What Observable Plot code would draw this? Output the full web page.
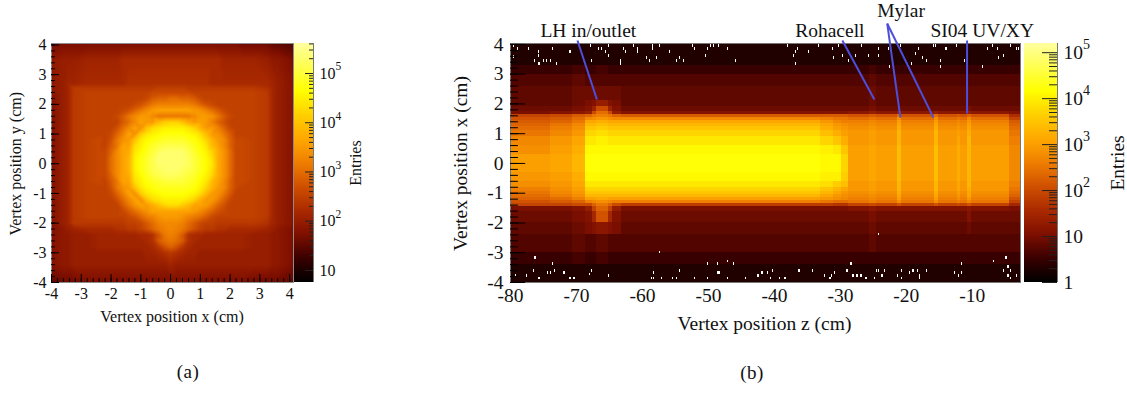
<!DOCTYPE html>
<html><head><meta charset="utf-8">
<script src="https://cdn.jsdelivr.net/npm/d3@7"></script>
<script src="https://cdn.jsdelivr.net/npm/@observablehq/plot@0.6"></script>
<style>
html,body{margin:0;padding:0;background:#fff}
#page{position:relative;width:1127px;height:394px;overflow:hidden;font-family:"Liberation Serif",serif}
#page svg{position:absolute;left:0;top:0;background:transparent}
.cap{position:absolute;font-size:19px;letter-spacing:.5px;transform:translate(-50%,-50%);color:#111}
</style></head><body><div id="page"></div>
<script>
// shared colour palette (fraction of the colour bar -> colour)
const paletteStops=[0,.1,.2,.3,.4,.5,.6,.7,.8,.9,1];
const paletteColors=["#000000","#3a0000","#7f0f00","#aa2a00","#d05000","#ef7f00","#ffa800","#ffd000","#ffff00","#ffff50","#ffffa0"];

// ---------- panel (a): x/y beam spot, values are 10*log10(entries)
const spotX=[-4,-3.6,-3.45,-3.25,-2.8,-2.4,-2.2,-2,-1.8,-1.6,-1.4,-1.2,-1,-.8,-.6,-.4,-.2,0,.2,.4,.6,.8,1,1.2,1.4,1.6,1.8,2,2.2,2.4,2.8,3.25,3.45,3.6,4.13];
const spotY=[4.05,3.5,2.7,2.55,2.4,2.2,2,1.8,1.6,1.4,1.2,1,.8,.6,.4,.2,0,-.2,-.4,-.6,-.8,-1,-1.2,-1.4,-1.6,-1.8,-2,-2.2,-2.4,-2.6,-2.8,-3,-3.4,-4];
const spotRows=[
[17,17,17,17,17,17,17,17,17,17,17,17,17,17,17,17,17,17,17,17,17,17,17,17,17,17,17,17,17,16,16,16,15,15,14],
[19,20,20,20,21,21,21,21,21,22,22,22,22,22,22,22,22,22,22,22,22,22,22,22,22,22,21,21,21,21,21,20,19,19,17],
[19,20,21,21,22,22,22,22,22,22,23,23,23,23,23,23,23,23,23,23,23,23,23,23,22,22,22,22,22,22,22,22,21,20,18],
[19,20,21,24,24,24,24,24,24,24,24,24,24,24,24,25,25,25,25,25,24,24,24,24,24,24,24,24,24,24,24,23,21,20,18],
[19,20,21,24,25,25,25,25,25,25,25,25,25,25,26,26,26,26,26,26,26,25,25,25,25,25,25,25,25,25,25,24,21,20,18],
[18,20,21,24,25,25,25,25,25,25,25,25,25,26,28,29,29,30,30,29,29,28,26,25,25,25,25,25,25,25,25,24,21,20,18],
[18,20,21,24,25,25,25,25,25,25,25,26,27,29,31,32,32,32,32,32,32,31,29,27,26,25,25,25,25,25,25,24,21,20,18],
[18,20,21,24,25,25,25,25,25,26,27,29,31,33,35,36,36,36,36,36,36,35,34,32,30,28,26,25,25,25,25,24,21,20,18],
[18,20,21,24,25,25,25,25,26,28,31,33,35,35,33,31,31,31,31,31,31,33,35,35,34,31,28,26,25,25,25,24,21,20,18],
[18,20,21,24,25,25,25,25,25,28,30,33,36,35,35,39,41,42,42,40,37,35,36,35,32,29,27,25,25,25,25,24,21,20,18],
[18,20,21,24,25,25,25,25,27,30,33,36,34,40,43,44,45,45,45,45,44,42,38,35,35,32,29,26,25,25,25,24,21,20,18],
[18,20,21,24,25,25,25,26,29,32,36,34,41,44,45,46,47,47,47,47,46,45,43,39,35,34,31,28,25,25,25,24,21,20,18],
[18,20,21,24,25,26,25,27,31,34,35,40,44,46,47,48,49,49,49,49,48,47,45,42,38,35,33,29,26,26,25,24,21,20,18],
[18,20,21,24,25,26,25,28,31,36,36,43,45,47,49,50,51,51,51,51,50,48,46,44,39,36,33,29,26,26,25,24,21,20,18],
[18,20,21,24,25,26,26,29,33,36,37,44,46,48,50,52,53,53,53,53,51,49,47,45,42,37,34,30,26,26,25,24,21,20,18],
[18,20,21,24,25,26,26,30,33,36,38,45,47,49,51,53,53,53,53,53,52,50,48,46,43,37,34,30,26,26,25,24,21,20,18],
[18,20,21,24,25,26,26,30,33,36,38,45,47,49,51,53,53,53,53,53,52,50,48,46,44,37,34,30,26,26,25,24,21,20,18],
[18,20,21,24,25,26,26,30,33,36,38,45,47,49,51,52,53,53,53,52,51,50,48,46,43,37,34,30,26,26,25,24,21,20,18],
[18,20,21,24,25,26,26,29,33,36,37,44,46,48,50,51,52,52,52,51,50,49,47,45,42,37,34,30,26,26,25,24,21,20,18],
[18,20,21,24,25,26,25,28,31,36,36,43,45,47,48,49,50,50,50,50,49,48,46,44,39,36,33,29,26,26,25,24,21,20,18],
[18,20,21,24,25,25,25,27,31,34,35,40,44,46,47,48,48,48,48,48,48,47,45,42,38,35,33,29,26,25,25,24,21,20,18],
[18,20,21,24,25,25,25,26,29,32,36,34,41,44,45,46,47,47,47,47,46,45,43,39,35,34,31,28,25,25,25,24,21,20,18],
[18,20,21,24,25,25,25,25,27,30,33,36,34,40,43,44,45,45,45,45,44,42,38,35,35,32,29,26,25,25,25,24,21,20,18],
[18,20,21,24,25,25,25,25,25,28,31,34,36,35,37,40,42,43,43,41,39,36,36,35,32,29,27,25,25,25,25,24,21,20,18],
[18,20,21,24,25,25,25,25,25,26,28,30,32,34,36,36,36,36,36,36,36,35,33,31,29,27,26,25,25,25,25,24,21,20,18],
[18,20,21,24,25,25,25,25,25,25,26,27,29,31,32,34,35,35,35,34,32,31,30,28,26,25,25,25,25,25,25,24,21,20,18],
[18,20,21,24,24,24,24,24,24,24,25,25,26,28,30,32,33,33,33,32,30,28,26,25,25,24,24,24,24,24,24,23,21,20,18],
[18,19,20,21,22,22,22,22,23,23,24,24,25,27,29,31,32,33,32,31,29,27,25,24,24,23,23,22,22,22,22,21,20,19,17],
[18,19,19,20,20,21,21,21,21,21,21,21,22,22,23,27,31,32,31,28,23,22,22,21,21,21,21,21,21,21,20,20,19,19,17],
[18,19,19,20,20,21,21,21,21,21,21,21,21,22,23,28,30,31,30,28,23,22,21,21,21,21,21,21,21,21,20,20,19,19,17],
[18,19,19,20,20,21,21,21,21,21,21,21,21,21,22,24,27,29,27,24,22,21,21,21,21,21,21,21,21,21,20,20,19,19,17],
[18,19,19,20,20,20,20,20,20,20,20,20,20,21,21,22,23,24,23,22,21,21,20,20,20,20,20,20,20,20,20,20,19,19,17],
[18,19,19,20,20,20,20,20,20,20,20,20,20,20,20,20,20,21,20,20,20,20,20,20,20,20,20,20,20,20,20,20,19,19,17],
[15,16,16,16,17,17,17,17,17,17,17,17,17,17,17,17,17,17,17,17,17,17,17,17,17,17,17,17,17,17,16,16,16,16,15]
];

// ---------- panel (b): x vs z, rows of transverse profile for each stretch of z (10*log10(entries))
const rowEdges=[4.03,3.3,3.0,2.6,2.1,1.9,1.75,1.65,1.55,1.45,1.35,1.25,1.1,.9,.6,.3,0,-.3,-.6,-.8,-.95,-1.05,-1.15,-1.25,-1.35,-1.45,-1.6,-2,-2.4,-3,-3.4,-4];
const upstreamA=[3,5,7,8,8,9,10,19,21,22,23,24,25,27,28,30,30,29,28,26,25,24,23,21,19,10,9,8,7,5,3];
const upstreamB=[3,5,7,8,8,9,11,20,22,23,25,26,27,29,30,31,31,30,29,28,27,26,24,22,19,10,9,8,7,5,3];
const upstreamC=[3,6,8,9,9,10,12,22,24,25,27,28,29,31,32,33,33,32,31,30,29,28,26,23,20,11,10,9,8,6,3];
const bulgeOuter=[3,5,7,9,10,11,13,23,27,31,33,35,37,39,41,42,42,41,39,37,35,33,30,26,20,13,11,10,7,5,3];
const bulgeMid=[3,5,7,9,11,14,20,25,28,31,33,35,37,39,41,42,42,41,39,37,35,33,30,27,23,19,15,11,7,5,3];
const bulgeTop=[3,6,7,9,13,20,24,26,29,32,34,36,38,40,41,42,42,41,39,37,35,33,31,28,25,23,21,12,8,6,3];
const tube=[3,5,7,8,8,9,11,22,27,31,33,35,37,39,41,42,42,41,39,37,35,33,30,26,18,10,9,8,7,5,3];
const tubeEndA=[3,5,7,8,8,9,11,22,26,29,31,32,34,37,40,41,41,40,38,35,33,31,29,25,18,10,9,8,7,5,3];
const tubeEndB=[3,5,7,8,8,9,11,22,25,27,29,30,32,35,39,41,41,40,36,33,31,29,28,24,17,10,9,8,7,5,3];
const tubeEndC=[3,5,7,8,8,9,11,22,25,26,28,29,30,32,35,37,37,36,34,31,29,28,27,24,17,10,9,8,7,5,3];
const downstream=[3,5,7,8,8,9,12,21,24,26,27,28,29,29,30,30,30,30,29,29,28,27,26,25,19,11,9,8,7,5,3];
const rohacell=[3,6,8,9,9,10,13,22,25,27,28,29,30,30,31,31,31,31,30,30,29,28,27,26,20,12,10,9,8,5,3];
const mylar=[3,5,7,8,8,9,13,24,28,30,31,32,33,33,34,34,34,34,33,33,32,31,30,28,21,11,9,8,7,5,3];
const faint=[3,5,7,8,8,9,12,22,25,27,28,29,30,31,32,32,32,32,31,31,30,29,28,26,20,11,9,8,7,5,3];
const silicon=[3,5,7,8,8,10,13,23,27,29,30,31,32,33,33,33,33,33,33,32,31,31,29,27,21,12,11,9,7,5,3];
const tail=[3,5,7,8,8,9,11,16,19,22,23,24,25,26,27,27,27,27,26,25,24,23,21,19,15,10,9,8,7,5,3];
const zEdges=[-80,-74,-70.6,-68.6,-67.6,-67,-65.2,-64.5,-63.2,-33,-31,-29.8,-28.8,-25.6,-24.6,-21.3,-20.7,-15.8,-15.2,-12.3,-11.8,-10.8,-10.2,-4.3,-2.7];
const zProfiles=[upstreamA,upstreamB,upstreamC,bulgeOuter,bulgeMid,bulgeTop,bulgeMid,bulgeOuter,tube,tubeEndA,tubeEndB,tubeEndC,downstream,rohacell,downstream,mylar,downstream,mylar,downstream,faint,downstream,silicon,downstream,tail];

// empty bins (white specks)
const emptyZ=[-79.6,-78.9,-79.5,-77.3,-75.8,-75.8,-76.4,-75.7,-75,-74.5,-73.9,-73,-73.6,-71,-67.9,-66.7,-66.2,-65.6,-65.1,-65.1,-67.7,-62.9,-62.6,-61.4,-60.8,-60.8,-58.5,-58.5,-57.4,-55.9,-63.3,-63.3,-59.4,-58.9,-57.9,-54.8,-54.4,-53.8,-52.4,-52.1,-50.2,-49.7,-49.2,-48.5,-47.1,-50.5,-45.9,-38,-36.5,-36.8,-37.1,-36.8,-34.8,-33.3,-31.2,-30.3,-31,-29.7,-28.8,-27.7,-26.8,-25.8,-24.2,-24.2,-22.7,-22.6,-19.2,-20.9,-18.2,-18.6,-17.6,-17,-15.9,-15.6,-14.8,-14.8,-14,-12.4,-11.2,-8.5,-7.7,-7,-6.2,-6,-5.3,-4.2,-3.3,-3,
-79.2,-76.5,-76.3,-77.6,-75.7,-74.4,-73.9,-73.6,-73.3,-71.9,-71,-70.4,-68,-67.7,-65.1,-58.7,-58.3,-58.3,-57.4,-57.1,-55.5,-54.9,-54.4,-52.1,-50.2,-50.2,-48.7,-48.7,-48.4,-47.1,-47.1,-46.2,-44.4,-42.5,-41.9,-41.1,-40.3,-40.6,-39.3,
-38.4,-36.3,-34.2,-32.4,-31.6,-31.3,-30.9,-29,-28.4,-28.1,-27.5,-26.9,-26.2,-26,-24.8,-24.5,-24.2,-24.2,-23.7,-23.3,-21.3,-20.7,-20.7,-19.5,-19,-18.3,-18,-18,-17,-12.7,-12.1,-11.7,-11.7,-6.8,-5.3,-4.9,-4.6,-4.2,-4.6,-4.2,-3.3];
const emptyY=[3.9,3.8,3.53,3.8,3.7,3.56,3.39,3.29,3.39,3.39,3.39,3.29,3.8,3.7,3.9,3.8,3.8,3.7,3.9,3.56,3.39,3.8,3.7,3.9,3.8,3.7,3.9,3.8,3.9,3.7,3.39,3.29,3.49,3.39,3.49,3.39,3.49,3.39,3.9,3.8,3.8,3.9,3.9,3.9,3.8,3.56,3.39,3.9,3.8,3.7,3.56,3.29,3.7,3.9,3.8,3.9,3.49,3.56,3.39,3.56,3.9,3.56,3.56,3.8,3.8,3.19,3.29,3.9,3.8,3.63,3.49,3.39,3.9,3.9,3.39,3.19,3.8,3.9,3.39,3.19,3.8,3.9,3.8,3.49,3.56,3.9,3.8,3.8,
-3.82,-3.65,-3.23,-3.82,-3.91,-3.73,-3.73,-3.43,-3.65,-3.73,-3.91,-3.91,-3.78,-3.65,-3.82,-3.91,-3.73,-3.91,-3.04,-3.91,-3.91,-3.91,-3.65,-3.91,-3.43,-3.91,-3.43,-3.73,-3.73,-3.34,-3.91,-3.43,-3.91,-3.82,-3.73,-3.73,-3.65,-3.91,-3.91,
-3.91,-3.65,-3.65,-3.82,-3.91,-3.82,-3.73,-3.65,-3.43,-3.82,-3.82,-3.82,-3.91,-3.91,-3.91,-3.65,-3.65,-2.43,-3.82,-3.65,-3.82,-3.65,-3.91,-3.73,-3.65,-3.65,-3.82,-3.91,-3.65,-3.73,-3.82,-3.43,-3.73,-3.34,-3.65,-3.23,-3.52,-3.65,-3.82,-3.91,-3.82];

// annotations: z/x positions of the labelling lines and text
const leaders=[
 {z1:-69.85,y1:4.13,z2:-66.9,y2:2.15},
 {z1:-29.7,y1:4.13,z2:-24.85,y2:2.15},
 {z1:-22.9,y1:4.7,z2:-20.9,y2:1.54},
 {z1:-22.9,y1:4.7,z2:-15.9,y2:1.54},
 {z1:-10.8,y1:4.13,z2:-10.8,y2:1.68}];
const notes=[
 {z:-68.2,y:4.45,t:"LH in/outlet"},
 {z:-31.6,y:4.45,t:"Rohacell"},
 {z:-20.8,y:5.14,t:"Mylar"},
 {z:-8.5,y:4.45,t:"SI04 UV/XY"}];

const axisTicks=[-4,-3,-2,-1,0,1,2,3,4];
const minorAxis=d3.range(-40,41,2).map(d=>d/10);
const zTicks=[-80,-70,-60,-50,-40,-30,-20,-10];

const FONT="Liberation Serif";
const page=document.getElementById("page");
const colour=(lo,hi)=>({type:"linear",domain:paletteStops.map(f=>lo+f*(hi-lo)),range:paletteColors,clamp:true});
function add(o){ page.appendChild(Plot.plot({width:1127,height:394,style:{fontFamily:FONT,background:"transparent",color:"#111"},...o})); }
const str=d=>String(d);

// panel (a)
const spotCells=spotY.flatMap((y,i)=>spotX.map((x,j)=>({x,y,v:spotRows[i][j]})));
add({
 marginLeft:51,marginRight:1127-293,marginTop:43,marginBottom:394-282,
 x:{domain:[-4,4.13]},y:{domain:[-4,4.05]},color:colour(7.55,56.1),
 marks:[
  Plot.raster(spotCells,{x:"x",y:"y",fill:"v",interpolate:"barycentric",imageRendering:"auto"}),
  Plot.frame({stroke:"#8c8c8c"}),
  Plot.ruleY(axisTicks,{y:d=>d,x1:-4,x2:-3.73,stroke:"#000"}),
  Plot.ruleY(minorAxis,{y:d=>d,x1:-4,x2:-3.87,stroke:"#000"}),
  Plot.ruleX(axisTicks,{x:d=>d,y1:-4,y2:-3.73,stroke:"#000"}),
  Plot.ruleX(minorAxis,{x:d=>d,y1:-4,y2:-3.87,stroke:"#000"}),
  Plot.axisX({ticks:axisTicks,tickSize:0,tickPadding:5,tickFormat:str,fontSize:16,label:null}),
  Plot.axisY({ticks:axisTicks,tickSize:0,tickPadding:5,tickFormat:str,fontSize:16,label:null}),
  Plot.text(["Vertex position x (cm)"],{x:0.05,y:-5.15,fontSize:16})  ,
  Plot.text(["Vertex position y (cm)"],{x:-5.2,y:0,rotate:-90,fontSize:16})
 ]
});

// panel (b)
const tubeCells=zProfiles.flatMap((p,k)=>p.map((v,i)=>({z1:zEdges[k],z2:zEdges[k+1],y1:rowEdges[i+1],y2:rowEdges[i],v})));
const empties=emptyZ.map((z,i)=>({z,y:emptyY[i]}));
add({
 marginLeft:510,marginRight:1127-1020,marginTop:43,marginBottom:394-282,
 x:{domain:[-80,-2.7]},y:{domain:[-4,4.03]},color:colour(0,52),
 marks:[
  Plot.rect(tubeCells,{x1:"z1",x2:"z2",y1:"y1",y2:"y2",fill:"v",shapeRendering:"crispEdges"}),
  Plot.rect(empties,{x1:"z",x2:d=>d.z+.18,y1:"y",y2:d=>d.y+.09,fill:"#fff",shapeRendering:"crispEdges"}),
  Plot.frame({stroke:"#777"}),
  Plot.ruleY(axisTicks,{y:d=>d,x1:-80,x2:-77.7,stroke:"#000"}),
  Plot.ruleY(minorAxis,{y:d=>d,x1:-80,x2:-78.8,stroke:"#000"}),
  Plot.link(leaders,{x1:"z1",y1:"y1",x2:"z2",y2:"y2",stroke:"#4d4fdc",strokeWidth:2,clip:false}),
  Plot.text(notes,{x:"z",y:"y",text:"t",fontSize:19.5,fill:"#111"}),
  Plot.axisX({ticks:zTicks,tickSize:0,tickPadding:6,tickFormat:str,fontSize:19.5,label:null}),
  Plot.axisY({ticks:axisTicks,tickSize:0,tickPadding:7,tickFormat:str,fontSize:19.5,label:null}),
  Plot.text(["Vertex position z (cm)"],{x:-41.5,y:-5.4,fontSize:19.5}),
  Plot.text(["Vertex position x (cm)"],{x:-87.6,y:0,rotate:-90,fontSize:19.5})
 ]
});

// colour bars
function bar(left,right,lo,hi,majors,tickLen,minorLen,font,titleDx,titleSize){
 const levels=d3.range(lo,hi,0.1);
 const minors=majors.flatMap(m=>[2,3,4,5,6,7,8,9].map(k=>m*k)).filter(v=>v<=10**(hi/10));
 const w=right-left;
 const lab=majors.filter(v=>v>=10**(lo/10));
 const base=lab.map(v=>({v,e:v===10||v===1?"":String(Math.round(Math.log10(v)))}));
 add({
  marginLeft:left,marginRight:1127-right,marginTop:43,marginBottom:394-282,
  x:{domain:[0,1],axis:null},y:{type:"log",domain:[10**(lo/10),10**(hi/10)],axis:null},color:colour(lo,hi),
  marks:[
   Plot.rect(levels,{x1:0,x2:1,y1:d=>10**(d/10),y2:d=>10**((d+0.1)/10),fill:d=>d,shapeRendering:"crispEdges"}),
   Plot.ruleX([1],{stroke:"#777"}),
   Plot.ruleY(lab,{y:d=>d,x1:1-tickLen/w,x2:1,stroke:"#222"}),
   Plot.ruleY(minors,{y:d=>d,x1:1-minorLen/w,x2:1,stroke:"#222"}),
   Plot.text(base,{x:1,y:"v",text:d=>d.v===1?"1":"10",dx:6,textAnchor:"start",fontSize:font,fill:"#111"}),
   Plot.text(base,{x:1,y:"v",text:"e",dx:6+font,dy:-font*.42,textAnchor:"start",fontSize:font*.72,fill:"#111"}),
   Plot.text(["Entries"],{x:1,y:10**((lo+hi)/20),dx:titleDx,rotate:-90,fontSize:titleSize,fill:"#111"})
  ]
 });
}
bar(294,313,7.55,56.1,[10,100,1000,10000,100000],8,4,16,42,16);
bar(1024,1057,0,52,[1,10,100,1000,10000,100000],15,8,19.5,60,19.5);

[["(a)",188,372],["(b)",752,373]].forEach(([t,x,y])=>{
 const d=document.createElement("div");d.className="cap";d.textContent=t;d.style.left=x+"px";d.style.top=y+"px";page.appendChild(d);
});
</script></body></html>
